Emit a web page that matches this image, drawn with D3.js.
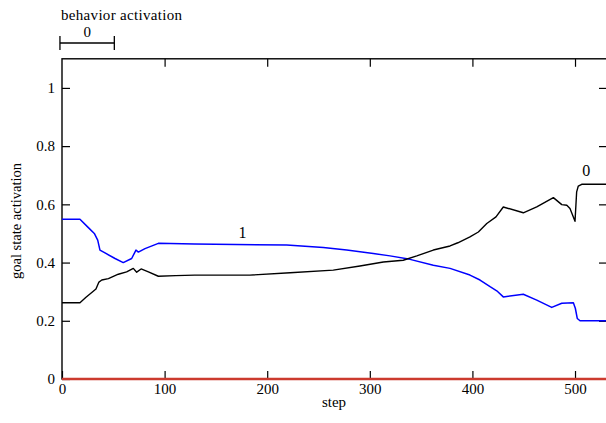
<!DOCTYPE html>
<html>
<head>
<meta charset="utf-8">
<script src="https://cdn.jsdelivr.net/npm/d3@7"></script>
<style>
body { margin: 0; background: #fff; }
svg { display: block; font-family: "Liberation Serif", "Times New Roman", serif; }
.axis text { font-family: "Liberation Serif", "Times New Roman", serif; font-size: 15px; fill: #000; }
.axis line { stroke: #000; stroke-width: 1.2; }
.axis path.domain { display: none; }
</style>
</head>
<body>
<svg class="chart"></svg>
<script>
var width = 606;
var height = 423;

// goal 0 (black)
var goal0Steps = [0, 17.5, 23.1, 29.3, 33.1, 36, 38.8, 45.2, 54.9, 63, 69.5, 72.8, 77.1, 84.2, 93.9, 110.8, 129.2,
    183.2, 222.3, 264.4, 290.4, 313.2, 332.6, 345.8, 361.9, 378.2, 385.8, 397.6, 405.8, 414, 423, 430.1, 449.6,
    462.7, 478.9, 487.1, 492, 495.1, 500, 501.6, 503.2, 506.5, 535];
var goal0Values = [0.262, 0.262, 0.280, 0.298, 0.309, 0.333, 0.340, 0.345, 0.360, 0.368, 0.380, 0.367, 0.378, 0.368,
    0.353, 0.355, 0.357, 0.357, 0.365, 0.374, 0.388, 0.402, 0.408, 0.423, 0.443, 0.457, 0.468, 0.488, 0.505, 0.534,
    0.557, 0.591, 0.571, 0.591, 0.623, 0.599, 0.597, 0.586, 0.542, 0.643, 0.663, 0.669, 0.669];

// goal 1 (blue)
var goal1Steps = [0, 17.5, 25.7, 31.5, 34.8, 37, 41.9, 51.7, 59.7, 67.9, 72.1, 74.4, 80.9, 93.9, 129.2, 219, 254.7,
    277.5, 303.4, 319.7, 339.2, 361.9, 378.2, 397.6, 407.4, 417.2, 423.7, 430.1, 449.6, 462.7, 477.3, 487.1,
    498.4, 500.3, 502.2, 504.9, 535];
var goal1Values = [0.549, 0.549, 0.520, 0.500, 0.477, 0.443, 0.433, 0.414, 0.400, 0.414, 0.443, 0.436, 0.448, 0.466,
    0.464, 0.460, 0.452, 0.443, 0.431, 0.423, 0.411, 0.391, 0.380, 0.357, 0.340, 0.317, 0.303, 0.282, 0.291,
    0.271, 0.246, 0.260, 0.262, 0.243, 0.208, 0.200, 0.200];

// goal 2 (red), stays at zero
var goal2Steps = [0, 535];
var goal2Values = [0, 0];

var xTicks = [0, 100, 200, 300, 400, 500];
var topTicks = [100, 200, 300, 400, 500];
var yTicks = [0, 0.2, 0.4, 0.6, 0.8, 1];

// behavior activation bar
var behaviorNames = ["0"];
var behaviorStarts = [-2];
var behaviorEnds = [51];

// curve labels
var goalLabels = ["1", "0"];
var goalLabelSteps = [176, 511];
var goalLabelValues = [0.486, 0.696];

// plot frame (don't call it "top", window.top is read-only)
var plotL = 62, plotT = 58.8, plotR = 608, plotB = 379;

var x = d3.scaleLinear().domain([0, 530.2]).range([plotL, 606]);
var y = d3.scaleLinear().domain([0, 1.1]).range([plotB, plotT]);

var chart = d3.select(".chart")
    .attr("width", width)
    .attr("height", height);

// axes, ticks pointing inward
chart.append("g")
    .attr("class", "axis")
    .attr("transform", "translate(0," + plotB + ")")
    .call(d3.axisBottom(x).tickValues(xTicks).tickSize(-8).tickPadding(4).tickFormat(d3.format("d")));

chart.append("g")
    .attr("class", "axis")
    .attr("transform", "translate(0," + plotT + ")")
    .call(d3.axisTop(x).tickValues(topTicks).tickSize(-8).tickFormat(""));

chart.append("g")
    .attr("class", "axis")
    .attr("transform", "translate(" + plotL + ",0)")
    .call(d3.axisLeft(y).tickValues(yTicks).tickSize(-8).tickPadding(7).tickFormat(d3.format("~g")));

chart.append("g")
    .attr("class", "axis")
    .attr("transform", "translate(" + plotR + ",0)")
    .call(d3.axisRight(y).tickValues(yTicks.slice(1)).tickSize(-9).tickFormat(""));

chart.append("rect")
    .attr("x", plotL)
    .attr("y", plotT)
    .attr("width", plotR - plotL)
    .attr("height", plotB - plotT)
    .attr("fill", "none")
    .attr("stroke", "#000")
    .attr("stroke-width", 1.4);

// lines
var line = d3.line()
    .x(function(d) { return x(d[0]); })
    .y(function(d) { return y(d[1]); });

function pairs(s, v) {
    return s.map(function(d, i) { return [d, v[i]]; });
}

var series = [
    { data: pairs(goal2Steps, goal2Values), color: "#cc3a2e", w: 2.6 },
    { data: pairs(goal1Steps, goal1Values), color: "#0000ff", w: 1.5 },
    { data: pairs(goal0Steps, goal0Values), color: "#000000", w: 1.4 }
];

chart.append("clipPath").attr("id", "clip")
    .append("rect").attr("x", plotL).attr("y", plotT - 2).attr("width", plotR - plotL).attr("height", plotB - plotT + 4);

chart.append("g")
    .attr("clip-path", "url(#clip)")
    .selectAll("path.goal")
    .data(series)
    .enter()
    .append("path")
    .attr("class", "goal")
    .attr("d", function(d) { return line(d.data); })
    .attr("fill", "none")
    .attr("stroke", function(d) { return d.color; })
    .attr("stroke-width", function(d) { return d.w; })
    .attr("stroke-linejoin", "round");

chart.selectAll("text.goal-label")
    .data(goalLabels)
    .enter()
    .append("text")
    .attr("class", "goal-label")
    .attr("x", function(d, i) { return x(goalLabelSteps[i]); })
    .attr("y", function(d, i) { return y(goalLabelValues[i]); })
    .attr("text-anchor", "middle")
    .style("font-size", "16px")
    .text(function(d) { return d; });

// behavior activation bar
var barY = 43;
var bars = chart.selectAll("g.behavior")
    .data(behaviorNames)
    .enter()
    .append("g")
    .attr("class", "behavior");

bars.append("line")
    .attr("x1", function(d, i) { return x(behaviorStarts[i]); })
    .attr("x2", function(d, i) { return x(behaviorEnds[i]); })
    .attr("y1", barY).attr("y2", barY)
    .attr("stroke", "#000").attr("stroke-width", 1.3);

bars.selectAll("line.cap")
    .data(function(d) { var i = behaviorNames.indexOf(d); return [behaviorStarts[i], behaviorEnds[i]]; })
    .enter()
    .append("line")
    .attr("class", "cap")
    .attr("x1", function(d) { return x(d); })
    .attr("x2", function(d) { return x(d); })
    .attr("y1", barY - 7).attr("y2", barY + 7)
    .attr("stroke", "#000").attr("stroke-width", 1.3);

bars.append("text")
    .attr("x", function(d, i) { return (x(behaviorStarts[i]) + x(behaviorEnds[i])) / 2; })
    .attr("y", 36.5)
    .attr("text-anchor", "middle")
    .style("font-size", "15px")
    .text(function(d) { return d; });

chart.append("text")
    .attr("x", 61)
    .attr("y", 20)
    .attr("textLength", 121)
    .style("font-size", "15px")
    .text("behavior activation");

// axis titles
chart.append("text")
    .attr("x", 334)
    .attr("y", 407)
    .attr("text-anchor", "middle")
    .style("font-size", "15px")
    .text("step");

chart.append("text")
    .attr("transform", "translate(21,221) rotate(-90)")
    .attr("text-anchor", "middle")
    .style("font-size", "14.5px")
    .text("goal state activation");
</script>
</body>
</html>
